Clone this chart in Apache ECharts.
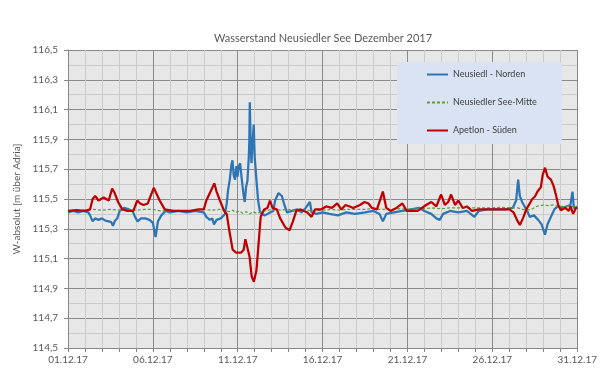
<!DOCTYPE html>
<html>
<head>
<meta charset="utf-8">
<script src="https://cdn.jsdelivr.net/npm/echarts@6/dist/echarts.min.js"></script>
<style>
html,body{margin:0;padding:0;background:#fff;}
#chart{width:600px;height:388px;}
</style>
</head>
<body>
<div id="chart"></div>
<script>
// ---- Data (x = day of December 2017, fractional) ----
const titleText = 'Wasserstand Neusiedler See Dezember 2017';
const yAxisName = 'W-absolut [m über Adria]';
const seriesNames = ['Neusiedl - Norden', 'Neusiedler See-Mitte', 'Apetlon - Süden'];

const nordDays = [1.0,1.3,1.6,1.9,2.2,2.3,2.45,2.6,2.8,3.0,3.2,3.4,3.55,3.65,3.75,3.9,4.05,4.3,4.6,4.8,4.95,5.1,5.3,5.55,5.8,6.0,6.16,6.3,6.5,6.75,7.0,7.5,8.0,8.5,9.0,9.15,9.35,9.5,9.6,9.75,10.0,10.25,10.35,10.43,10.53,10.63,10.69,10.76,10.84,10.92,10.99,11.06,11.14,11.22,11.33,11.41,11.49,11.57,11.65,11.68,11.71,11.76,11.81,11.86,11.94,12.0,12.1,12.2,12.3,12.4,12.6,12.9,13.1,13.2,13.4,13.6,13.75,13.9,14.2,14.5,14.75,15.0,15.25,15.35,15.65,16.0,16.4,16.9,17.4,17.9,18.5,19.0,19.35,19.55,19.75,20.2,20.7,21.2,21.7,22.0,22.4,22.7,22.9,23.1,23.5,24.0,24.5,24.94,25.2,25.7,26.2,26.8,27.2,27.4,27.52,27.62,27.75,27.9,28.05,28.2,28.45,28.7,28.9,29.1,29.25,29.45,29.65,29.85,30.1,30.35,30.6,30.72,30.8,31.0];
const nordValues = [115.41,115.42,115.41,115.42,115.41,115.39,115.35,115.37,115.36,115.37,115.355,115.35,115.345,115.32,115.35,115.37,115.42,115.44,115.43,115.42,115.38,115.35,115.37,115.37,115.36,115.34,115.245,115.35,115.39,115.42,115.41,115.42,115.41,115.42,115.41,115.38,115.36,115.37,115.33,115.36,115.37,115.40,115.47,115.56,115.63,115.73,115.76,115.66,115.63,115.72,115.65,115.72,115.74,115.65,115.54,115.48,115.58,115.62,115.78,115.88,116.15,115.88,115.74,115.85,116.0,115.78,115.63,115.49,115.42,115.40,115.39,115.41,115.42,115.49,115.54,115.52,115.46,115.41,115.42,115.43,115.41,115.44,115.48,115.41,115.40,115.41,115.40,115.39,115.41,115.40,115.41,115.42,115.40,115.35,115.40,115.41,115.42,115.43,115.44,115.42,115.40,115.37,115.36,115.40,115.42,115.41,115.42,115.38,115.42,115.43,115.43,115.43,115.44,115.49,115.63,115.52,115.48,115.45,115.42,115.38,115.39,115.36,115.33,115.26,115.33,115.38,115.43,115.45,115.44,115.45,115.46,115.55,115.44,115.44];

const mitteDays = [1,1.5,2,2.5,3,3.5,4,4.5,5,5.5,6,6.5,7,7.5,8,8.5,9,9.5,10,10.3,10.5,10.7,10.9,11.1,11.3,11.5,11.7,11.9,12.1,12.3,12.6,13,13.5,14,14.5,15,15.5,16,16.5,17,17.5,18,18.5,19,19.5,20,20.5,21,21.5,22,22.5,23,23.5,24,24.5,25,25.5,26,26.5,27,27.5,27.8,28,28.3,28.6,29,29.3,29.6,29.9,30.2,30.5,31];
const mitteValues = [115.42,115.42,115.425,115.43,115.425,115.43,115.425,115.43,115.425,115.43,115.43,115.42,115.425,115.42,115.42,115.425,115.43,115.425,115.43,115.42,115.415,115.425,115.41,115.42,115.405,115.415,115.40,115.415,115.405,115.41,115.42,115.43,115.425,115.43,115.42,115.425,115.42,115.425,115.43,115.425,115.43,115.43,115.43,115.435,115.43,115.43,115.435,115.43,115.435,115.435,115.44,115.435,115.44,115.44,115.44,115.44,115.44,115.44,115.445,115.44,115.44,115.43,115.425,115.43,115.45,115.46,115.455,115.46,115.45,115.45,115.45,115.45];

const suedDays = [1.0,1.5,2.0,2.3,2.45,2.6,2.8,3.1,3.4,3.6,3.75,3.95,4.2,4.5,4.85,5.08,5.25,5.45,5.7,6.05,6.4,6.7,7.2,7.7,8.2,8.7,9.0,9.15,9.4,9.62,9.75,9.95,10.2,10.35,10.5,10.7,10.9,11.2,11.35,11.45,11.55,11.7,11.82,11.95,12.1,12.2,12.35,12.55,12.75,12.9,13.05,13.3,13.5,13.8,14.05,14.25,14.45,14.7,14.9,15.1,15.35,15.55,15.9,16.2,16.55,16.86,17.1,17.35,17.6,17.8,18.0,18.2,18.47,18.7,18.9,19.2,19.55,19.75,20.0,20.35,20.7,20.95,21.3,21.6,22.1,22.4,22.7,22.98,23.2,23.4,23.57,23.8,24.0,24.25,24.5,24.8,25.2,25.7,26.2,26.6,27.0,27.25,27.45,27.62,27.8,28.0,28.2,28.35,28.5,28.66,28.86,28.96,29.1,29.25,29.45,29.6,29.74,29.88,30.03,30.3,30.5,30.6,30.76,30.92,31.0];
const suedValues = [115.42,115.425,115.42,115.43,115.50,115.52,115.49,115.51,115.49,115.57,115.54,115.48,115.43,115.42,115.42,115.49,115.47,115.46,115.47,115.575,115.49,115.43,115.42,115.42,115.42,115.43,115.43,115.49,115.55,115.605,115.55,115.49,115.42,115.40,115.29,115.16,115.14,115.14,115.16,115.23,115.22,115.11,114.98,114.945,115.02,115.16,115.38,115.43,115.44,115.49,115.44,115.43,115.37,115.31,115.29,115.35,115.42,115.43,115.42,115.41,115.38,115.43,115.43,115.45,115.44,115.47,115.43,115.46,115.45,115.44,115.45,115.46,115.48,115.47,115.44,115.43,115.55,115.44,115.42,115.44,115.47,115.42,115.42,115.42,115.46,115.48,115.45,115.53,115.46,115.48,115.53,115.46,115.49,115.44,115.45,115.42,115.43,115.43,115.43,115.43,115.43,115.41,115.36,115.325,115.37,115.43,115.47,115.50,115.515,115.55,115.58,115.66,115.71,115.65,115.63,115.59,115.53,115.46,115.425,115.44,115.42,115.45,115.40,115.44,115.44];

const xMin = 1, xMax = 31, yMin = 114.5, yMax = 116.5;

function zip(a, b) { return a.map((d, i) => [d, b[i]]); }
function fmtDay(v) {
  const d = Math.round(v);
  return (d < 10 ? '0' + d : '' + d) + '.12.17';
}

const chart = echarts.init(document.getElementById('chart'), null, {renderer: 'canvas'});
const FONT = 'Lato, "Noto Sans", sans-serif';
const MAJOR = '#8a8a8a', MINOR = '#cbcbcb';

chart.setOption({
  backgroundColor: '#ffffff',
  animation: false,
  title: {
    text: titleText,
    left: 318, top: 28, textAlign: 'center',
    textStyle: {fontFamily: FONT, fontSize: 11, fontWeight: 'normal', color: '#595959'}
  },
  legend: {
    orient: 'vertical',
    left: 397, top: 62,
    padding: [8, 25, 9, 29],
    itemGap: 19,
    itemWidth: 21, itemHeight: 10,
    backgroundColor: '#dae3f3',
    itemStyle: {opacity: 0},
    textStyle: {fontFamily: FONT, fontSize: 9, color: '#404040'},
    data: seriesNames
  },
  grid: {
    left: 68, right: 22, top: 50, bottom: 40,
    show: true, backgroundColor: '#e7e7e7', borderWidth: 0
  },
  xAxis: {
    type: 'value', min: xMin, max: xMax, interval: 5,
    axisLine: {show: true, lineStyle: {color: '#868686', width: 1}},
    axisTick: {show: true, length: 4, lineStyle: {color: '#868686'}},
    minorTick: {show: true, splitNumber: 5, length: 4, lineStyle: {color: '#868686'}},
    axisLabel: {formatter: fmtDay, fontFamily: FONT, fontSize: 10, color: '#595959', margin: 7},
    splitLine: {show: true, lineStyle: {color: MAJOR, width: 1}},
    minorSplitLine: {show: true, lineStyle: {color: MINOR, width: 1}}
  },
  yAxis: {
    type: 'value', min: yMin, max: yMax, interval: 0.2,
    name: yAxisName, nameLocation: 'middle', nameRotate: 90, nameGap: 44,
    nameTextStyle: {fontFamily: FONT, fontSize: 10, color: '#595959'},
    axisLine: {show: true, lineStyle: {color: '#868686', width: 1}},
    axisTick: {show: true, length: 4, lineStyle: {color: '#868686'}},
    axisLabel: {formatter: v => v.toFixed(1).replace('.', ','), fontFamily: FONT, fontSize: 10, color: '#595959', margin: 10},
    splitLine: {show: true, lineStyle: {color: MAJOR, width: 1}},
    minorTick: {show: false, splitNumber: 2},
    minorSplitLine: {show: true, lineStyle: {color: MINOR, width: 1}}
  },
  series: [
    {
      name: seriesNames[0], type: 'line', data: zip(nordDays, nordValues),
      symbol: 'none', smooth: false,
      lineStyle: {color: '#2e75b6', width: 2.25}, itemStyle: {color: '#2e75b6'}
    },
    {
      name: seriesNames[1], type: 'line', data: zip(mitteDays, mitteValues),
      symbol: 'none',
      lineStyle: {color: '#5f9e3c', width: 1.25, type: [3, 2]}, itemStyle: {color: '#5f9e3c'}
    },
    {
      name: seriesNames[2], type: 'line', data: zip(suedDays, suedValues),
      symbol: 'none',
      lineStyle: {color: '#c00000', width: 2.25}, itemStyle: {color: '#c00000'}
    }
  ]
});
</script>
</body>
</html>
